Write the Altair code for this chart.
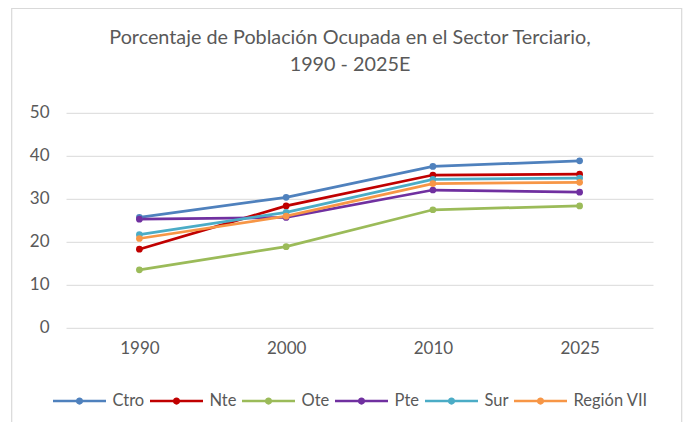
import altair as alt
import pandas as pd

years = ["1990", "2000", "2010", "2025"]
series = ["Ctro", "Nte", "Ote", "Pte", "Sur", "Región VII"]
ctro = [25.6, 30.3, 37.5, 38.8]
nte = [18.2, 28.3, 35.5, 35.7]
ote = [13.4, 18.8, 27.4, 28.3]
pte = [25.2, 25.6, 32.0, 31.5]
sur = [21.6, 26.8, 34.5, 34.8]
region = [20.7, 25.9, 33.5, 33.8]
colors = ["#4F81BD", "#C00000", "#9BBB59", "#7030A0", "#4BACC6", "#F79646"]

values = [ctro, nte, ote, pte, sur, region]
rows = []
for s, vals in zip(series, values):
    for y, v in zip(years, vals):
        rows.append({"Año": y, "Serie": s, "Valor": v})
df = pd.DataFrame(rows)

FONT = "Lato"
GREY = "#595959"

x = alt.X("Año:N", sort=years, title=None,
          scale=alt.Scale(padding=0.5),
          axis=alt.Axis(labelAngle=0, labelFontSize=17, labelColor=GREY, labelFont=FONT,
                        labelPadding=13, ticks=False, domain=False, grid=False))
y = alt.Y("Valor:Q", title=None,
          scale=alt.Scale(domain=[0, 50], nice=False),
          axis=alt.Axis(values=[0, 10, 20, 30, 40, 50], labelFontSize=17, labelColor=GREY,
                        labelFont=FONT, labelPadding=17, ticks=False, tickSize=0, domain=False,
                        grid=True, gridColor="#d9d9d9", gridWidth=1))
color_scale = alt.Scale(domain=series, range=colors)

r1, r2 = 0.09, 0.045
sym = (f"M-1,0L1,0"
       f"M{r1},0A{r1},{r1},0,1,1,-{r1},0A{r1},{r1},0,1,1,{r1},0Z"
       f"M{r2},0A{r2},{r2},0,1,1,-{r2},0A{r2},{r2},0,1,1,{r2},0Z")
leg = alt.Legend(orient="none", direction="horizontal", title=None,
                 legendX=-14.5, legendY=260,
                 symbolType=sym, symbolSize=2809, symbolStrokeWidth=2.5,
                 symbolOpacity=1,
                 labelFontSize=16.5, labelFont=FONT, labelColor=GREY,
                 labelOffset=5, columnPadding=0)

lines = alt.Chart(df).mark_line(strokeWidth=2.75).encode(
    x=x, y=y,
    color=alt.Color("Serie:N", scale=color_scale, sort=series, title=None, legend=leg),
)
points = alt.Chart(df).mark_point(filled=True, size=45, opacity=1).encode(
    x=x, y=y,
    color=alt.Color("Serie:N", scale=color_scale, sort=series, legend=None),
)
border = alt.Chart(pd.DataFrame({"a": [0]})).mark_rect(
    fill=None, stroke="#d9d9d9", strokeWidth=1.2
).encode(x=alt.value(-54.3), x2=alt.value(615.7), y=alt.value(-104.5), y2=alt.value(330))

chart = alt.layer(border, lines, points).properties(
    width=587, height=214.5,
    padding={"left": 58, "top": 104.8, "right": 30, "bottom": 94.7},
    autosize=alt.AutoSizeParams(type="none"),
    background="white",
    title=alt.TitleParams(
        text=["Porcentaje de Población Ocupada en el Sector Terciario,", "1990 - 2025E"],
        font=FONT, fontSize=19.8, fontWeight="normal", color=GREY,
        anchor="middle", frame="group", dx=-9.5, offset=-67, lineHeight=27,
    ),
).configure_view(stroke="transparent", strokeWidth=0)

chart.save("out.html", embed_options={"renderer": "svg", "actions": False})
